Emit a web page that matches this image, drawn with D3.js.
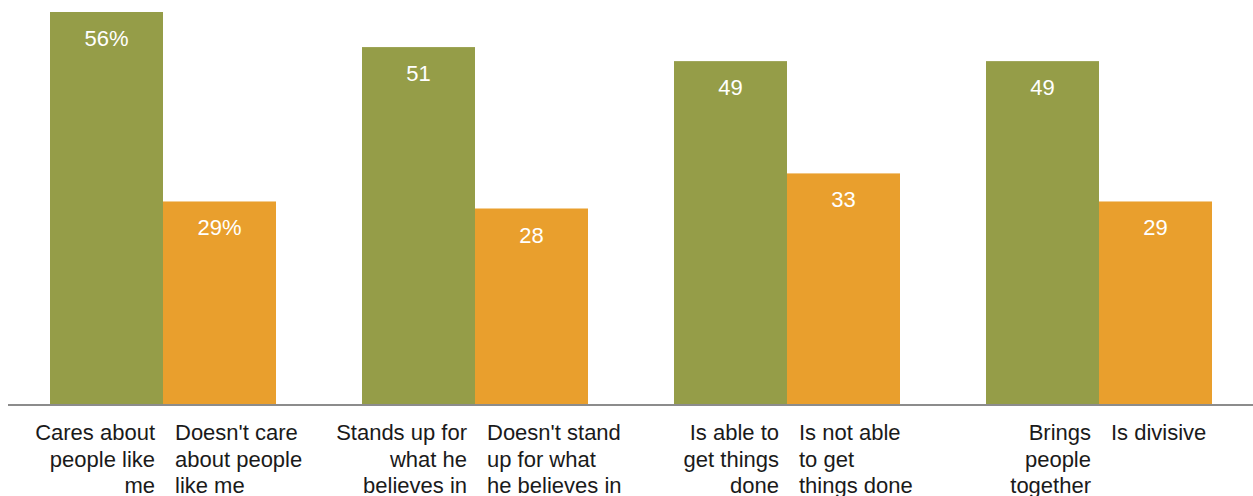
<!DOCTYPE html>
<html><head><meta charset="utf-8">
<script src="https://cdn.jsdelivr.net/npm/d3@7"></script>
<style>body{margin:0;background:#fff}svg{display:block}</style>
</head><body>
<svg id="c" width="1253" height="496"></svg>
<script>
const groups = ["g1","g2","g3","g4"];
const series = ["positive","negative"];
const positiveValues = [56, 51, 49, 49];
const negativeValues = [29, 28, 33, 29];
const positiveLabels = [["Cares about","people like","me"],["Stands up for","what he","believes in"],["Is able to","get things","done"],["Brings","people","together"]];
const negativeLabels = [["Doesn't care","about people","like me"],["Doesn't stand","up for what","he believes in"],["Is not able","to get","things done"],["Is divisive"]];
const valueText = [["56%","51","49","49"],["29%","28","33","29"]];

const colors = {positive:"#959d48", negative:"#e99f2d"};
const svg = d3.select("#c");
const font = "'Liberation Sans', Arial, sans-serif";
const baseY = 405;

const x0 = d3.scaleBand().domain(groups).range([7, 1255]).paddingInner(86/312).paddingOuter(43/312);
const x1 = d3.scaleBand().domain(series).range([0, x0.bandwidth()]);
const y = d3.scaleLinear().domain([0, 56]).range([baseY, 12]);

const vals = {positive: positiveValues, negative: negativeValues};

series.forEach((s, si) => {
  const g = svg.append("g");
  g.selectAll("rect").data(vals[s]).join("rect")
    .attr("x", (d,i) => x0(groups[i]) + x1(s))
    .attr("y", d => y(d))
    .attr("width", x1.bandwidth())
    .attr("height", d => baseY - y(d))
    .attr("fill", colors[s]);
  g.selectAll("text").data(vals[s]).join("text")
    .attr("x", (d,i) => x0(groups[i]) + x1(s) + x1.bandwidth()/2)
    .attr("y", d => y(d) + 34)
    .attr("text-anchor", "middle")
    .attr("fill", "#fff")
    .style("font-family", font).style("font-size", "22px")
    .text((d,i) => valueText[si][i]);
});

// baseline
svg.append("line").attr("x1", 8).attr("x2", 1253).attr("y1", baseY).attr("y2", baseY)
  .attr("stroke", "#8c8c8c").attr("stroke-width", 2);

// category labels
const lbl = svg.append("g").style("font-family", font).style("font-size", "22px").attr("fill", "#1a1a1a");
groups.forEach((gname, i) => {
  const mid = x0(gname) + x1("negative");
  const t1 = lbl.append("text").attr("text-anchor", "end");
  positiveLabels[i].forEach((line, k) => {
    t1.append("tspan").attr("x", mid - 8).attr("y", 440 + k*26.7).text(line);
  });
  const t2 = lbl.append("text").attr("text-anchor", "start");
  negativeLabels[i].forEach((line, k) => {
    t2.append("tspan").attr("x", mid + 12).attr("y", 440 + k*26.7).text(line);
  });
});
</script>
</body></html>
